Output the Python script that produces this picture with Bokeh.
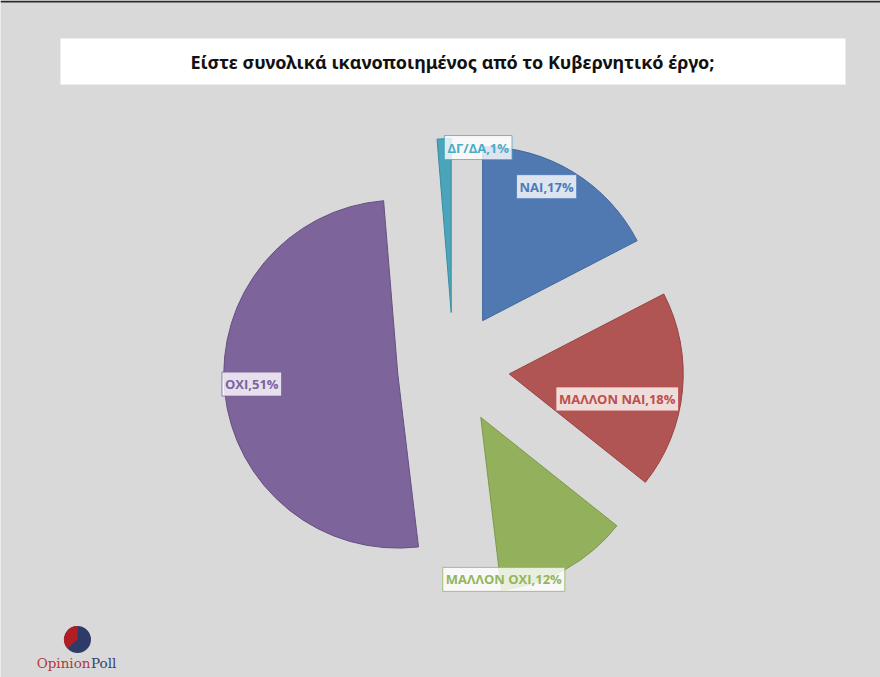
import math
from bokeh.plotting import figure
from bokeh.models import Range1d, Label, BoxAnnotation, ColumnDataSource
from bokeh.embed import file_html
from bokeh.resources import INLINE

# ---------------- data ----------------
categories = ["ΝΑΙ", "ΜΑΛΛΟΝ ΝΑΙ", "ΜΑΛΛΟΝ ΟΧΙ", "ΟΧΙ", "ΔΓ/ΔΑ"]
shares = [17.4, 18.3, 12.4, 50.6, 1.3]
title_text = "Είστε συνολικά ικανοποιημένος από το Κυβερνητικό έργο;"

# ---------------- style ----------------
fill_colors = ["#5079b1", "#b05553", "#93b05d", "#7d649a", "#4aa5bb"]
line_colors = ["#41699c", "#984441", "#7c9a4a", "#665083", "#3a8ea3"]
text_colors = ["#5079b8", "#bb504d", "#95b55a", "#7d62a2", "#4bacc6"]
BG = "#d9d9d9"

W, H = 880, 677


def Y(ys):
    return H - ys


p = figure(width=W, height=H,
           x_range=Range1d(0, W), y_range=Range1d(0, H),
           output_backend="svg", toolbar_location=None, min_border=0,
           background_fill_color=BG, border_fill_color=BG,
           outline_line_color=None)
p.axis.visible = False
p.grid.visible = False

# dark top edge
p.add_layout(BoxAnnotation(left=0, right=W, top=Y(0), bottom=Y(2),
                           fill_color="#2b2b2b", fill_alpha=1.0, line_color=None))

# title box
p.add_layout(BoxAnnotation(left=60, right=845, top=Y(38), bottom=Y(84),
                           fill_color="white", fill_alpha=1.0,
                           line_color="#eeeeee", line_width=1, level="underlay"))
p.add_layout(Label(x=452, y=Y(61), text=title_text, text_align="center",
                   text_baseline="middle", text_font="Noto Sans",
                   text_font_size="18px", text_font_style="bold",
                   text_color="#111111"))

# pie (exploded)
CX, CY, R, D = 453, Y(368), 174, 56
total = sum(shares)
xs, ys, starts, ends = [], [], [], []
cum = 0.0
for v in shares:
    a0 = cum / total * 360.0
    a1 = (cum + v) / total * 360.0
    mid = math.radians((a0 + a1) / 2)
    xs.append(CX + D * math.sin(mid))
    ys.append(CY + D * math.cos(mid))
    starts.append(math.radians(90 - a1))
    ends.append(math.radians(90 - a0))
    cum += v

src = ColumnDataSource(dict(x=xs, y=ys, start=starts, end=ends,
                            fill=fill_colors, line=line_colors, cat=categories))
p.wedge(x="x", y="y", radius=R, start_angle="start", end_angle="end",
        direction="anticlock", fill_color="fill", line_color="line",
        line_width=1, source=src)

# data labels (offset from each slice's apex, screen px: dx right, dy down)
label_offsets = [(64, -134), (108, 25), (23, 162), (-146, 10), (27, -165)]
for cat, v, x, y, (dx, dy), tc in zip(categories, shares, xs, ys, label_offsets, text_colors):
    p.add_layout(Label(x=x + dx, y=y - dy, text=f"{cat},{round(v):d}%",
                       text_align="center", text_baseline="middle",
                       text_font="Open Sans", text_font_size="13px",
                       text_font_style="bold", text_color=tc,
                       background_fill_color="white", background_fill_alpha=0.8,
                       border_line_color=tc, border_line_width=1,
                       border_line_alpha=0.8, padding=3))

# logo
LX, LY, LR = 77, Y(639), 13.5
p.wedge(x=[LX], y=[LY], radius=LR, start_angle=0, end_angle=2 * math.pi,
        fill_color="#2e3b68", line_color=None)
p.wedge(x=[LX], y=[LY], radius=LR, start_angle=math.radians(88),
        end_angle=math.radians(222), direction="anticlock",
        fill_color="#b01e23", line_color=None)
p.add_layout(Label(x=90, y=Y(662), text="Opinion", text_align="right",
                   text_baseline="middle", text_font="DejaVu Serif",
                   text_font_size="13.5px", text_color="#b0393a"))
p.add_layout(Label(x=90.5, y=Y(662), text="Poll", text_align="left",
                   text_baseline="middle", text_font="DejaVu Serif",
                   text_font_size="13.5px", text_color="#34406e"))

open("out.html", "w").write(file_html(p, INLINE))
